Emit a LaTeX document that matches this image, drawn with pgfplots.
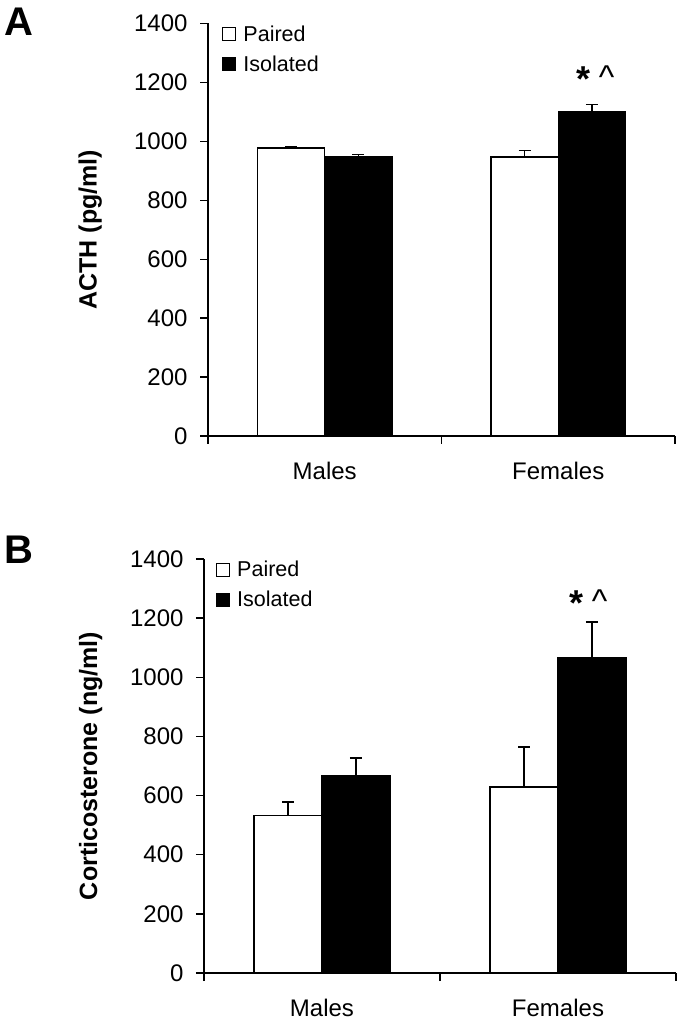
\documentclass[border=0pt]{standalone}
\usepackage{pgfplots}
\pgfplotsset{compat=1.18}
\usepackage{fontspec}
\setmainfont{Liberation Sans}
\begin{document}
\begin{tikzpicture}
\useasboundingbox (0pt,0pt) rectangle (677pt,1020pt);
\pgfplotsset{
  mybar/.style={
    scale only axis,
    axis x line=bottom, axis y line=left,
    axis line style={-, line width=1.3pt},
    ymin=0, ymax=1400, ytick={0,200,...,1400},
    xmin=-0.5, xmax=1.5,
    xtick={-0.5,0.5,1.5}, xticklabels={},
    extra x ticks={0,1}, extra x tick labels={Males,Females},
    extra x tick style={major tick length=0pt, xticklabel style={yshift=-23pt}},
    tick align=outside,
    major tick length=8pt,
    every tick/.style={black, line width=1.3pt},
    tick label style={font=\fontsize{24}{28}\selectfont},
    yticklabel style={xshift=-9pt},
    /pgf/number format/assume math mode=true,
    /pgf/number format/1000 sep={},
    ylabel style={font=\bfseries\fontsize{25}{30}\selectfont},
    ybar, bar width=0.288,
    legend style={draw=none, fill=none, font=\fontsize{21.5}{26}\selectfont,
      legend cell align=left, row sep=9pt, inner sep=0pt},
    legend image code/.code={\draw[#1, line width=1.2pt] (0pt,-6.5pt) rectangle (13pt,6.5pt); \path (18pt,0pt);},
  },
  errstyle/.style={error bars/.cd, y dir=plus, y explicit,
    error bar style={line width=1.3pt, black}, error mark options={rotate=90, mark size=6pt, line width=1.3pt, black}},
}
\newcommand{\sig}{\raisebox{-6pt}{\bfseries\fontsize{36}{36}\selectfont *}\hspace{8pt}\raisebox{-3pt}{\fontsize{33}{33}\selectfont\textasciicircum}}
% Panel A
\begin{axis}[mybar, at={(208pt,584pt)}, anchor=south west,
  width=467pt, height=412.5pt,
  ylabel={ACTH (pg/ml)},
  ylabel style={at={(axis description cs:-0.252,0.5)}, anchor=center},
  legend style={at={(0.03,1.0)}, anchor=north west}]
\addplot[draw=black, fill=white, line width=1.3pt, bar shift=-0.144, errstyle]
  coordinates {(0,977) +- (0,5) (1,947) +- (0,21)};
\addplot[draw=black, fill=black, line width=1.3pt, bar shift=0.144, errstyle]
  coordinates {(0,947) +- (0,8) (1,1100) +- (0,24)};
\legend{Paired,Isolated}
\node[inner sep=0pt, anchor=base] at (axis cs:1.16,1190) {\sig};
\end{axis}
% Panel B
\begin{axis}[mybar, at={(204pt,47pt)}, anchor=south west,
  width=472pt, height=414pt,
  ylabel={Corticosterone (ng/ml)},
  ylabel style={at={(axis description cs:-0.24,0.5)}, anchor=center},
  legend style={at={(0.025,1.0)}, anchor=north west}]
\addplot[draw=black, fill=white, line width=1.3pt, bar shift=-0.144, errstyle]
  coordinates {(0,532) +- (0,46) (1,629) +- (0,135)};
\addplot[draw=black, fill=black, line width=1.3pt, bar shift=0.144, errstyle]
  coordinates {(0,666) +- (0,61) (1,1065) +- (0,122)};
\legend{Paired,Isolated}
\node[inner sep=0pt, anchor=base] at (axis cs:1.13,1229) {\sig};
\end{axis}
\node[anchor=north west, inner sep=0pt, font=\bfseries\fontsize{40}{44}\selectfont] at (4pt,1012pt) {A};
\node[anchor=north west, inner sep=0pt, font=\bfseries\fontsize{40}{44}\selectfont] at (4pt,484pt) {B};
\end{tikzpicture}
\end{document}
